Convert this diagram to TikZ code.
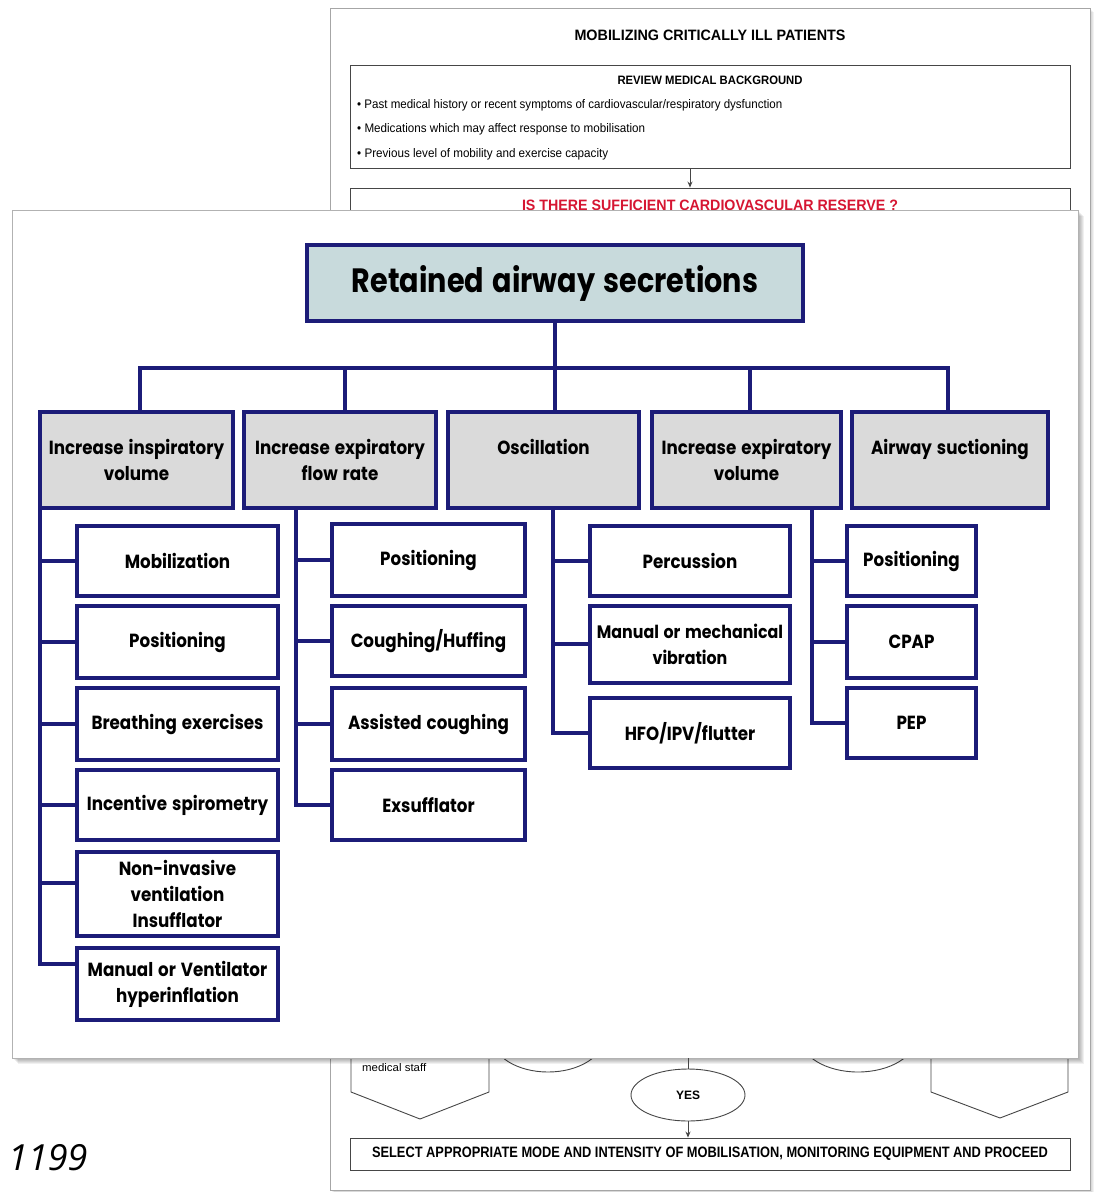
\documentclass[tikz,border=0pt]{standalone}
\usepackage{graphicx}
\usepackage{fontspec}
\usetikzlibrary{shapes.geometric,arrows.meta}
\newfontfamily\comicf{Poppins}[FakeStretch=0.88,WordSpace=1.4]
\newfontfamily\arialf{Liberation Sans}
\newfontfamily\numf{Open Sans}
\definecolor{navy}{RGB}{28,28,120}
\definecolor{titlefill}{RGB}{200,218,220}
\definecolor{catfill}{RGB}{218,218,218}
\definecolor{bgline}{RGB}{70,70,70}
\definecolor{redtxt}{RGB}{214,22,50}
\newcommand\fitbox[3]{\resizebox{#1pt}{#2pt}{#3}}
\tikzset{
  bgbox/.style={draw=bgline, line width=0.9pt, rectangle, inner sep=0pt},
  bgtxt/.style={inner sep=0pt, font=\arialf},
  arr/.style={draw=bgline, line width=0.9pt, -{Stealth[length=6pt,width=5pt]}},
  catbox/.style={draw=navy, line width=4pt, fill=catfill, minimum height=96pt, align=center, inner sep=0pt, font=\comicf\bfseries\fontsize{19}{26}\selectfont},
  subbox/.style={draw=navy, line width=4pt, fill=white, align=center, inner sep=0pt, font=\comicf\bfseries\fontsize{19}{26}\selectfont},
  link/.style={draw=navy, line width=4pt},
}
\begin{document}
\begin{tikzpicture}[x=1pt,y=-1pt]
\useasboundingbox (0,0) rectangle (1098,1192);
\fill[white] (0,0) rectangle (1098,1192);

% ---------- background sheet ----------
\foreach \i in {1,...,4}{\fill[black,opacity=0.05] (330+\i,8+\i) rectangle (1090+\i,1190+\i);}
\node[draw=gray!70, fill=white, line width=0.8pt, minimum width=760pt, minimum height=1182pt, inner sep=0pt] (back) at (710,599) {};
\node[bgtxt] (h1) at (710,35) {\fitbox{271}{10.5}{\bfseries MOBILIZING CRITICALLY ILL PATIENTS}};
\node[bgbox, minimum width=720pt, minimum height=103pt] (review) at (710,116.5) {};
\node[bgtxt] (rt) at (710,80) {\fitbox{185}{8.5}{\bfseries REVIEW MEDICAL BACKGROUND}};
\node[bgtxt, anchor=west] (bl1) at (357,105) {\fitbox{425}{9}{• Past medical history or recent symptoms of cardiovascular/respiratory dysfunction}};
\node[bgtxt, anchor=west] (bl2) at (357,129) {\fitbox{288}{9}{• Medications which may affect response to mobilisation}};
\node[bgtxt, anchor=west] (bl3) at (357,154) {\fitbox{251}{9}{• Previous level of mobility and exercise capacity}};
\node[bgbox, minimum width=720pt, minimum height=200pt] (cv) at (710,288) {};
\node[bgtxt, text=redtxt] (cvt) at (710,205) {\fitbox{376}{10.5}{\bfseries IS THERE SUFFICIENT CARDIOVASCULAR RESERVE ?}};
\coordinate (vx) at (690,0);
\draw[arr] (review.south -| vx) -- (cv.north -| vx);

\node[ellipse, draw=bgline, line width=0.9pt, minimum width=112pt, minimum height=70pt] (d1) at (548,1037) {};
\node[ellipse, draw=bgline, line width=0.9pt, minimum width=116pt, minimum height=70pt] (d2) at (858,1037) {};
\draw[bgline, line width=0.9pt] (351,1000) -- (351,1092) -- (420,1119) -- (489,1092) -- (489,1000);
\draw[bgline, line width=0.9pt] (931,1000) -- (931,1092) -- (1000,1118) -- (1068,1092) -- (1068,1000);
\node[bgtxt, anchor=west] (ms) at (362,1068) {\fitbox{64}{8}{medical staff}};
\node[ellipse, draw=bgline, line width=0.9pt, minimum width=114pt, minimum height=52pt, inner sep=0pt] (yes) at (688,1095) {\fitbox{24}{8.5}{\arialf\bfseries YES}};
\node[bgbox, minimum width=720pt, minimum height=32pt] (sel) at (710,1154) {\fitbox{676}{10.5}{\arialf\bfseries SELECT APPROPRIATE MODE AND INTENSITY OF MOBILISATION, MONITORING EQUIPMENT AND PROCEED}};
\draw[arr] (yes.south) -- (sel.north -| yes.south);

% ---------- page number ----------
\node[font=\numf\itshape\fontsize{36}{40}\selectfont, anchor=base west, inner sep=0pt] (pg) at (8,1170) {1199};

% ---------- front sheet ----------
\foreach \i in {1,...,6}{\fill[black,opacity=0.06] (12+\i,210+\i) rectangle (1078+\i,1058+\i);}
\node[draw=gray!60, fill=white, line width=0.8pt, minimum width=1066pt, minimum height=848pt, inner sep=0pt] (front) at (545,634) {};
\draw[bgline, line width=0.9pt] (front.south -| yes.north) -- (yes.north);

\node[draw=navy, line width=4pt, fill=titlefill, minimum width=496pt, minimum height=76pt, inner sep=0pt] (title) at (555,283) {\fitbox{406}{27}{\comicf\bfseries Retained airway secretions}};

\node[catbox, minimum width=193pt] (c1) at (136.5,460) {Increase inspiratory\\volume};
\node[catbox, minimum width=192pt] (c2) at (340,460) {Increase expiratory\\flow rate};
\node[catbox, minimum width=191pt] (c3) at (543.5,460) {Oscillation\\\phantom{l}};
\node[catbox, minimum width=189pt] (c4) at (746.5,460) {Increase expiratory\\volume};
\node[catbox, minimum width=196pt] (c5) at (950,460) {Airway suctioning\\\phantom{l}};

\coordinate (b1) at (140,368);
\coordinate (b2) at (345,368);
\coordinate (b3) at (555,368);
\coordinate (b4) at (750,368);
\coordinate (b5) at (948,368);
\draw[link] (b1 |- c1.north) -- (b1) -- (b5) -- (b5 |- c5.north);
\draw[link] (title.south) -- (b3 |- c3.north);
\draw[link] (b2) -- (b2 |- c2.north);
\draw[link] (b4) -- (b4 |- c4.north);

% column 1
\node[subbox, minimum width=201pt, minimum height=70pt] (s11) at (177.5,561) {Mobilization};
\node[subbox, minimum width=201pt, minimum height=72pt] (s12) at (177.5,642) {Positioning};
\node[subbox, minimum width=201pt, minimum height=72pt] (s13) at (177.5,724) {Breathing exercises};
\node[subbox, minimum width=201pt, minimum height=70pt] (s14) at (177.5,805) {Incentive spirometry};
\node[subbox, minimum width=201pt, minimum height=84pt] (s15) at (177.5,894) {Non-invasive\\ventilation\\Insufflator};
\node[subbox, minimum width=201pt, minimum height=72pt] (s16) at (177.5,984) {Manual or Ventilator\\hyperinflation};
\coordinate (k1) at (40,964);
\coordinate (k15) at (40,883);
\draw[link] (c1.south -| k1) -- (k1) -- (k1 -| s16.west);
\draw[link] (s11.west -| k1) -- (s11.west);
\draw[link] (s12.west -| k1) -- (s12.west);
\draw[link] (s13.west -| k1) -- (s13.west);
\draw[link] (s14.west -| k1) -- (s14.west);
\draw[link] (k15) -- (k15 -| s15.west);

% column 2
\node[subbox, minimum width=193pt, minimum height=72pt] (s21) at (428.5,560) {Positioning};
\node[subbox, minimum width=193pt, minimum height=70pt] (s22) at (428.5,641) {Coughing/Huffing};
\node[subbox, minimum width=193pt, minimum height=72pt] (s23) at (428.5,724) {Assisted coughing};
\node[subbox, minimum width=193pt, minimum height=70pt] (s24) at (428.5,805) {Exsufflator};
\coordinate (k2) at (296,0);
\draw[link] (c2.south -| k2) -- (s24.west -| k2) -- (s24.west);
\draw[link] (s21.west -| k2) -- (s21.west);
\draw[link] (s22.west -| k2) -- (s22.west);
\draw[link] (s23.west -| k2) -- (s23.west);

% column 3
\node[subbox, minimum width=200pt, minimum height=70pt] (s31) at (690,561) {Percussion};
\node[subbox, minimum width=200pt, minimum height=77pt, font=\comicf\bfseries\fontsize{18}{26}\selectfont] (s32) at (690,644) {Manual or mechanical\\vibration};
\node[subbox, minimum width=200pt, minimum height=70pt] (s33) at (690,733) {HFO/IPV/flutter};
\coordinate (k3) at (553,0);
\draw[link] (c3.south -| k3) -- (s33.west -| k3) -- (s33.west);
\draw[link] (s31.west -| k3) -- (s31.west);
\draw[link] (s32.west -| k3) -- (s32.west);

% column 4
\node[subbox, minimum width=129pt, minimum height=70pt] (s41) at (911.5,561) {Positioning};
\node[subbox, minimum width=129pt, minimum height=72pt] (s42) at (911.5,642) {CPAP};
\node[subbox, minimum width=129pt, minimum height=70pt] (s43) at (911.5,723) {PEP};
\coordinate (k4) at (812,0);
\draw[link] (c4.south -| k4) -- (s43.west -| k4) -- (s43.west);
\draw[link] (s41.west -| k4) -- (s41.west);
\draw[link] (s42.west -| k4) -- (s42.west);
\end{tikzpicture}
\end{document}
